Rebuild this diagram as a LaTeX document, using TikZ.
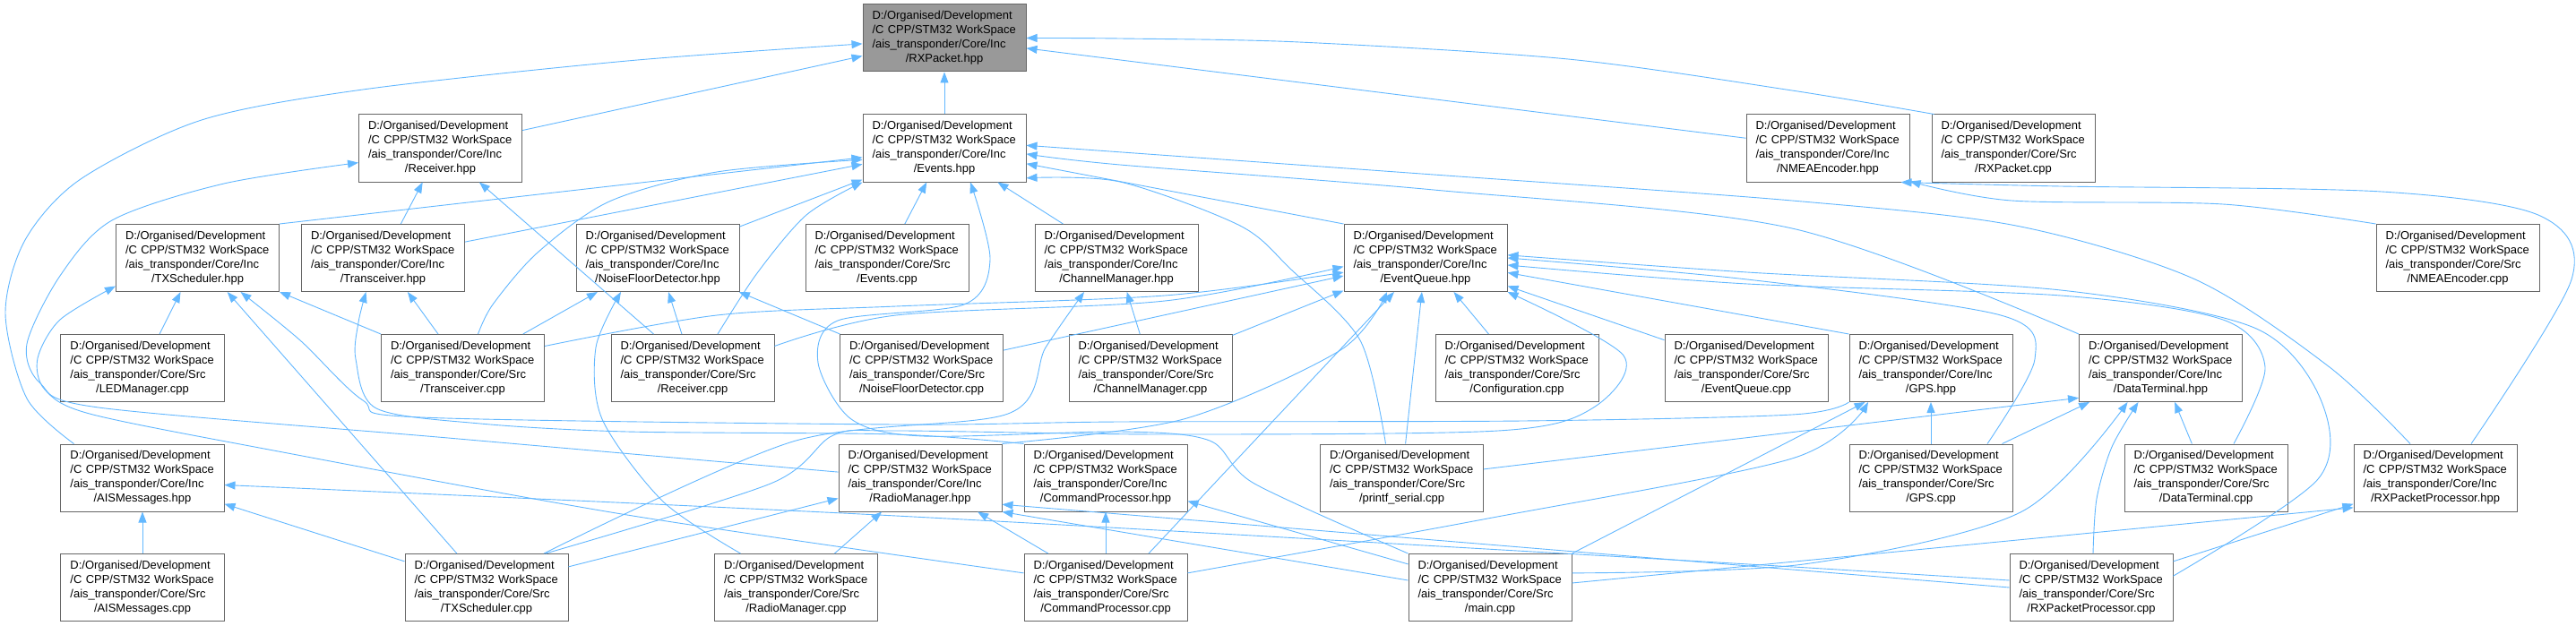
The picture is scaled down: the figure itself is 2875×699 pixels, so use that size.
\documentclass[tikz,border=0pt]{standalone}
\usepackage{fontspec}
\setmainfont{Liberation Sans}
\usetikzlibrary{arrows.meta}
\definecolor{depBlue}{RGB}{99,184,255}
\definecolor{boxLine}{RGB}{102,102,102}
\definecolor{rootFill}{RGB}{153,153,153}
\newcommand{\srcfile}[2]{D:/Organised/Development\\/C CPP/STM32 WorkSpace\\/ais\_transponder/Core/#1\\\hbox to\hsize{\hfil/#2\hfil}}
\tikzset{
  filebox/.style={draw=boxLine, fill=white, line width=1bp, text width=161bp, inner xsep=10.5bp, inner ysep=0pt, minimum height=75bp, align=left, font=\fontsize{13}{16}\selectfont},
  rootbox/.style={filebox, fill=rootFill},
  dep/.style={-{Triangle[length=12bp,width=9bp]}, draw=depBlue, line width=0.9bp}
}
\begin{document}
\begin{tikzpicture}[x=1bp, y=-1bp]
  \path[use as bounding box, fill=white] (0,0) rectangle (2875,699);
  % row 0 and 1
  \node[rootbox] (rxh) at (1054,42.5) {\srcfile{Inc}{RXPacket.hpp}};
  \node[filebox] (rcvh) at (491.5,165.5) {\srcfile{Inc}{Receiver.hpp}};
  \node[filebox] (evh) at (1054,165.5) {\srcfile{Inc}{Events.hpp}};
  \node[filebox] (nmeah) at (2040,165.5) {\srcfile{Inc}{NMEAEncoder.hpp}};
  \node[filebox] (rxc) at (2247,165.5) {\srcfile{Src}{RXPacket.cpp}};
  % row 2
  \node[filebox] (txsh) at (220.5,288) {\srcfile{Inc}{TXScheduler.hpp}};
  \node[filebox] (trxh) at (427.5,288) {\srcfile{Inc}{Transceiver.hpp}};
  \node[filebox] (nfdh) at (734,288) {\srcfile{Inc}{NoiseFloorDetector.hpp}};
  \node[filebox] (evc) at (990,288) {\srcfile{Src}{Events.cpp}};
  \node[filebox] (chmh) at (1246,288) {\srcfile{Inc}{ChannelManager.hpp}};
  \node[filebox] (evqh) at (1591,288) {\srcfile{Inc}{EventQueue.hpp}};
  \node[filebox] (nmeac) at (2743,288) {\srcfile{Src}{NMEAEncoder.cpp}};
  % row 3
  \node[filebox] (ledc) at (159,411) {\srcfile{Src}{LEDManager.cpp}};
  \node[filebox] (trxc) at (516.5,411) {\srcfile{Src}{Transceiver.cpp}};
  \node[filebox] (rcvc) at (773,411) {\srcfile{Src}{Receiver.cpp}};
  \node[filebox] (nfdc) at (1028.5,411) {\srcfile{Src}{NoiseFloorDetector.cpp}};
  \node[filebox] (chmc) at (1284,411) {\srcfile{Src}{ChannelManager.cpp}};
  \node[filebox] (cfgc) at (1693,411) {\srcfile{Src}{Configuration.cpp}};
  \node[filebox] (evqc) at (1949,411) {\srcfile{Src}{EventQueue.cpp}};
  \node[filebox] (gpsh) at (2155,411) {\srcfile{Inc}{GPS.hpp}};
  \node[filebox] (dth) at (2411.5,411) {\srcfile{Inc}{DataTerminal.hpp}};
  % row 4
  \node[filebox] (aish) at (159,533.5) {\srcfile{Inc}{AISMessages.hpp}};
  \node[filebox] (radh) at (1027,533.5) {\srcfile{Inc}{RadioManager.hpp}};
  \node[filebox] (cmdh) at (1234,533.5) {\srcfile{Inc}{CommandProcessor.hpp}};
  \node[filebox] (prtc) at (1564.5,533.5) {\srcfile{Src}{printf\_serial.cpp}};
  \node[filebox] (gpsc) at (2155,533.5) {\srcfile{Src}{GPS.cpp}};
  \node[filebox] (dtc) at (2462,533.5) {\srcfile{Src}{DataTerminal.cpp}};
  \node[filebox] (rxph) at (2718,533.5) {\srcfile{Inc}{RXPacketProcessor.hpp}};
  % row 5
  \node[filebox] (aisc) at (159,656) {\srcfile{Src}{AISMessages.cpp}};
  \node[filebox] (txsc) at (543,656) {\srcfile{Src}{TXScheduler.cpp}};
  \node[filebox] (radc) at (888.5,656) {\srcfile{Src}{RadioManager.cpp}};
  \node[filebox] (cmdc) at (1234,656) {\srcfile{Src}{CommandProcessor.cpp}};
  \node[filebox] (mainc) at (1663,656) {\srcfile{Src}{main.cpp}};
  \node[filebox] (rxpc) at (2334,656) {\srcfile{Src}{RXPacketProcessor.cpp}};

  % RXPacket.hpp
  \draw[dep] (evh) -- (rxh);
  \draw[dep] (rcvh) -- (rxh);
  \draw[dep] plot[smooth] coordinates {([xshift=15bp]aish.north west) (30,445) (6,350) (28,268) (90,200) (225,134) (405,100) (700,68) (rxh.184)};
  \draw[dep] (nmeah) -- (rxh);
  \draw[dep] plot[smooth] coordinates {([xshift=3bp]rxc.north west) (2000,101) (1750,66) (1450,47) (1250,43) (rxh.east)};
  % Receiver.hpp
  \draw[dep] (trxh) -- (rcvh);
  \draw[dep] (rcvc) -- (rcvh);
  \draw[dep] plot[smooth] coordinates {(radh.176) (500,489) (110,455) (45,428) (30,384) (67,308) (125,246) (250,205) (rcvh.190)};
  % Events.hpp
  \draw[dep] (txsh.north east) -- (evh);
  \draw[dep] (trxh) -- (evh);
  \draw[dep] (nfdh) -- (evh);
  \draw[dep] plot[smooth] coordinates {([xshift=17bp]trxc.north) (550,340) (600,282) (680,225) (800,192) (evh.188)};
  \draw[dep] plot[smooth] coordinates {([xshift=28bp]rcvc.north) (845,305) (900,240) (evh.south west)};
  \draw[dep] (evc) -- (evh);
  \draw[dep] (chmh) -- (evh);
  \draw[dep] plot[smooth] coordinates {(mainc.north west) (1400,540) (1350,492) (1250,482) (1030,487) (950,468) (913,405) (935,358) (1076,340) (1105,290) ([xshift=29bp]evh.south)};
  \draw[dep] (evqh.north west) -- (evh);
  \draw[dep] plot[smooth] coordinates {([xshift=-18bp]prtc.north) (1518,380) (1440,300) (1384,252) (1250,203) (evh.340)};
  \draw[dep] plot[smooth] coordinates {(dth.north west) (2000,255) (1600,212) (1250,184) (evh.356)};
  \draw[dep] plot[smooth] coordinates {([xshift=-28bp]rxph.north) (2600,410) (2450,312) (2250,252) (2000,224) (1600,195) (evh.2)};
  % TXScheduler.hpp
  \draw[dep] (ledc) -- (txsh);
  \draw[dep] (txsc) -- (txsh);
  \draw[dep] (trxc.north west) -- (txsh);
  \draw[dep] plot[smooth] coordinates {(cmdc.170) (700,575) (300,502) (100,462) (50,435) (42,400) (67,357) (txsh.199)};
  \draw[dep] plot[smooth] coordinates {(gpsh.south west) (2000,463) (1700,470) (1250,471) (1000,474) (470,466) (405,447) (335,380) ([xshift=48bp]txsh.south)};
  % Transceiver.hpp
  \draw[dep] (trxc) -- (trxh);
  \draw[dep] plot[smooth] coordinates {(cmdh.north west) (1000,485) (700,482) (536,473) (420,456) (397,401) (400,360) ([xshift=-19bp]trxh.south)};
  % NoiseFloorDetector.hpp
  \draw[dep] (trxc) -- (nfdh);
  \draw[dep] plot[smooth] coordinates {([xshift=-62bp]radc.north) (740,560) (672,468) (665,388) ([xshift=-41bp]nfdh.south)};
  \draw[dep] (rcvc) -- (nfdh);
  \draw[dep] (nfdc) -- (nfdh);
  % ChannelManager.hpp
  \draw[dep] (chmc) -- (chmh);
  \draw[dep] plot[smooth] coordinates {([xshift=64bp]txsc.north) (885,493) (1125,462) (1167,388) ([xshift=-36bp]chmh.south)};
  % EventQueue.hpp
  \draw[dep] plot[smooth] coordinates {(trxc.15) (800,352) (1000,342) (1300,330) (evqh.190)};
  \draw[dep] plot[smooth] coordinates {(rcvc.15) (1000,352) (1300,336) (evqh.186)};
  \draw[dep] (nfdc) -- (evqh);
  \draw[dep] (chmc) -- (evqh);
  \draw[dep] plot[smooth] coordinates {(radh.north east) (1321,468) (1496,391) ([xshift=-43bp]evqh.south)};
  \draw[dep] ([xshift=48bp]cmdc.north) -- ([xshift=-35bp]evqh.south);
  \draw[dep] (prtc) -- (evqh);
  \draw[dep] (cfgc) -- (evqh);
  \draw[dep] plot[smooth] coordinates {([xshift=66bp]txsc.north) (860,540) (930,486) (1000,481) (1300,485) (1672,481) (1777,456) (1812,397) (evqh.south east)};
  \draw[dep] (evqc) -- (evqh);
  \draw[dep] (gpsh.north west) -- (evqh);
  \draw[dep] plot[smooth] coordinates {([xshift=63bp]gpsc.north) (2271,401) (2233,352) (1950,312) (evqh.east)};
  \draw[dep] plot[smooth] coordinates {([xshift=31bp]dtc.north) (2528,410) (2481,357) (2300,330) (1950,317) (evqh.355)};
  \draw[dep] plot[smooth] coordinates {(rxpc.8) (2587,535) (2590,446) (2516,366) (2300,324) (1950,304) (evqh.2)};
  % GPS.hpp
  \draw[dep] (gpsc) -- (gpsh);
  \draw[dep] (mainc.north east) -- (gpsh);
  \draw[dep] plot[smooth] coordinates {(cmdc.10) (1655,580) (2000,512) ([xshift=-70bp]gpsh.south)};
  % DataTerminal.hpp
  \draw[dep] (gpsc) -- (dth);
  \draw[dep] (dtc) -- (dth);
  \draw[dep] plot[smooth] coordinates {([xshift=2bp]rxpc.north) (2340,557) (2357,499) ([xshift=-25bp]dth.south)};
  \draw[dep] plot[smooth] coordinates {(mainc.10) (2013,630) (2255,572) ([xshift=-37bp]dth.south)};
  \draw[dep] (prtc.6) -- (dth.200);
  % RXPacketProcessor.hpp
  \draw[dep] (rxpc) -- (rxph);
  \draw[dep] ([yshift=5bp]mainc.east) -- (rxph.200);
  % NMEAEncoder.hpp
  \draw[dep] plot[smooth] coordinates {(nmeac.north west) (2481,228) (2245,224) (nmeah.338)};
  \draw[dep] plot[smooth] coordinates {([xshift=40bp]rxph.north) (2870,312) (2835,241) (2658,214) (2300,208) (nmeah.335)};
  % AISMessages.hpp
  \draw[dep] (aisc) -- (aish);
  \draw[dep] (txsc) -- (aish);
  \draw[dep] plot[smooth] coordinates {(rxpc.175) (1900,627) (1000,576) (aish.355)};
  % RadioManager.hpp
  \draw[dep] (txsc) -- (radh);
  \draw[dep] (radc) -- (radh);
  \draw[dep] (cmdc) -- (radh);
  \draw[dep] ([yshift=8bp]mainc.west) -- (radh.south east);
  \draw[dep] (rxpc.west) -- (radh.342);
  % CommandProcessor.hpp
  \draw[dep] (cmdc) -- (cmdh);
  \draw[dep] (mainc) -- (cmdh);
\end{tikzpicture}
\end{document}
